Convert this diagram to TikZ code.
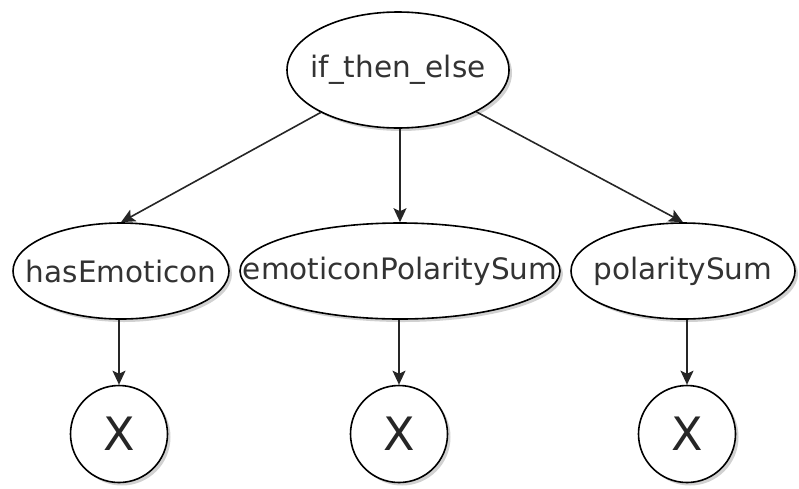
\documentclass[tikz,border=0pt]{standalone}
\usepackage{fontspec}
\setmainfont{DejaVu Sans}
\usetikzlibrary{shapes.geometric,arrows.meta,shadows}
\newcommand{\ctext}[1]{\makebox[0pt]{#1}}
\begin{document}
\begin{tikzpicture}[x=1pt,y=-1pt,
  oval/.style={ellipse,draw=black,line width=1.6pt,fill=white,inner sep=0pt,
    text=black!80,font=\fontsize{29.5}{31}\selectfont,
    drop shadow={shadow xshift=3pt,shadow yshift=-3pt,opacity=0.18,fill=black}},
  xcirc/.style={circle,draw=black,line width=1.6pt,fill=white,inner sep=0pt,
    minimum size=97pt,text=black!85,font=\fontsize{46}{48}\selectfont,
    drop shadow={shadow xshift=3pt,shadow yshift=-3pt,opacity=0.18,fill=black}},
  conn/.style={draw=black!85,line width=1.6pt,-{Stealth[length=14pt,width=13pt,inset=3pt]}}]
\useasboundingbox (0,0) rectangle (799,488);
\node[oval,minimum width=222pt,minimum height=116pt] (top) at (398,70) {\ctext{if\_then\_else}};
\node[oval,minimum width=216pt,minimum height=96pt] (has) at (121,271) {\ctext{hasEmoticon}};
\node[oval,minimum width=320pt,minimum height=96pt] (emo) at (400,271) {\ctext{emoticonPolaritySum}};
\node[oval,minimum width=224pt,minimum height=96pt] (pol) at (683,271) {\ctext{polaritySum}};
\node[xcirc] (x1) at (119,434) {X};
\node[xcirc] (x2) at (399,434) {X};
\node[xcirc] (x3) at (687,434) {X};
\draw[conn] (top) -- (has.north);
\draw[conn] (top.south -| emo.north) -- (emo.north);
\draw[conn] (top) -- (pol.north);
\draw[conn] (has.south -| x1.north) -- (x1.north);
\draw[conn] (emo.south -| x2.north) -- (x2.north);
\draw[conn] (pol.south -| x3.north) -- (x3.north);
\end{tikzpicture}
\end{document}
